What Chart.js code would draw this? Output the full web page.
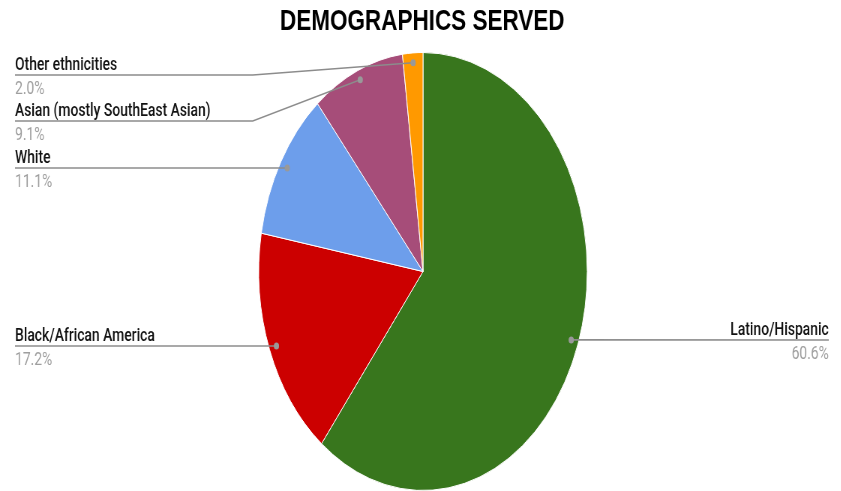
<!DOCTYPE html>
<html>
<head>
<meta charset="utf-8">
<script src="https://cdn.jsdelivr.net/npm/chart.js@4"></script>
<style>
  html, body { margin: 0; padding: 0; background: #fff; overflow: hidden; }
  /* the reference is squeezed horizontally, so draw wide and scale down */
  #wrap { width: 1121px; height: 491px; transform: scaleX(0.75); transform-origin: 0 0; }
</style>
</head>
<body>
<div id="wrap"><canvas id="pie"></canvas></div>
<script>
const title = 'DEMOGRAPHICS SERVED';
const categories = ['Latino/Hispanic', 'Black/African America', 'White', 'Asian (mostly SouthEast Asian)', 'Other ethnicities'];
const shares = [60.6, 17.2, 11.1, 9.1, 2.0];
const colors = ['#38761d', '#cc0000', '#6d9eeb', '#a64d79', '#ff9900'];

// where each label's leader line sits (side, line y)
const labelLayout = [
  { side: 'right', y: 340 },
  { side: 'left', y: 346 },
  { side: 'left', y: 168 },
  { side: 'left', y: 121 },
  { side: 'left', y: 75 }
];

const labelsPlugin = {
  id: 'sideLabels',
  afterDraw(chart) {
    const ctx = chart.ctx;
    const meta = chart.getDatasetMeta(0);

    ctx.save();
    ctx.fillStyle = '#000';
    ctx.font = 'bold 30px "Liberation Sans", Arial, sans-serif';
    ctx.textAlign = 'center';
    ctx.textBaseline = 'alphabetic';
    ctx.fillText(title, 563, 30);

    meta.data.forEach((arc, i) => {
      const mid = (arc.startAngle + arc.endAngle) / 2;
      const r = arc.outerRadius * 0.955;
      const dx = arc.x + Math.cos(mid) * r;
      const dy = arc.y + Math.sin(mid) * r;
      const lay = labelLayout[i];
      const leftX = 20, elbowX = 337, rightX = 1105;
      const straight = Math.abs(dy - lay.y) <= 3;

      ctx.strokeStyle = '#8c8c8c';
      ctx.lineWidth = 1.6;
      ctx.beginPath();
      if (lay.side === 'left') {
        ctx.moveTo(leftX, lay.y);
        if (!straight) {
          ctx.lineTo(elbowX, lay.y);
          ctx.lineTo(dx, dy);
        } else {
          ctx.lineTo(dx, lay.y);
        }
      } else {
        ctx.moveTo(dx, dy);
        ctx.lineTo(rightX, lay.y);
      }
      ctx.stroke();

      ctx.fillStyle = '#999';
      ctx.beginPath();
      ctx.arc(dx, straight ? lay.y : dy, 3.5, 0, Math.PI * 2);
      ctx.fill();

      const tx = lay.side === 'left' ? leftX : rightX;
      ctx.textAlign = lay.side === 'left' ? 'left' : 'right';
      ctx.fillStyle = '#111';
      ctx.font = '500 18.5px Roboto, "Liberation Sans", sans-serif';
      ctx.fillText(categories[i], tx, lay.y - 5);
      ctx.fillStyle = '#9e9e9e';
      ctx.font = '18.5px Roboto, "Liberation Sans", sans-serif';
      ctx.fillText(shares[i].toFixed(1) + '%', tx, lay.y + 19);
    });
    ctx.restore();
  }
};

new Chart(document.getElementById('pie'), {
  type: 'pie',
  data: {
    labels: categories,
    datasets: [{
      data: shares,
      backgroundColor: colors,
      borderColor: '#ffffff',
      borderWidth: 1
    }]
  },
  options: {
    responsive: true,
    maintainAspectRatio: false,
    animation: false,
    layout: { padding: { top: 52, bottom: 0, left: 344.5, right: 337.5 } },
    plugins: {
      legend: { display: false },
      tooltip: { enabled: false },
      title: { display: false }
    }
  },
  plugins: [labelsPlugin]
});
</script>
</body>
</html>
